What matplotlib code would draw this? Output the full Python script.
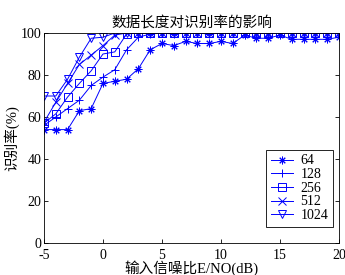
import matplotlib
matplotlib.use("Agg")
import matplotlib.pyplot as plt

plt.rcParams["font.family"] = ["Liberation Serif", "Noto Sans CJK SC"]
plt.rcParams["axes.unicode_minus"] = False

snr = list(range(-5, 21))
acc_64 = [54, 54, 54, 63, 64, 76, 77, 78, 83, 92, 95, 94, 96, 95, 95, 96, 95, 99,
          97.5, 97.5, 99, 97, 97, 97, 97, 98]
acc_128 = [56, 60, 64, 68, 75, 79, 82.5, 92, 98, 99.5, 100, 99.5, 100, 100, 99.5,
           100, 100, 100, 100, 100, 100, 100, 100, 100, 100, 100]
acc_256 = [57, 61.5, 69.5, 76, 82, 90, 91, 99.5, 100, 100, 100, 100, 100, 100, 100,
           100, 100, 100, 100, 100, 100, 100, 100, 100, 100, 100]
acc_512 = [57.5, 67, 76, 85, 89.5, 94, 99, 100, 100, 100, 100, 100, 100, 100, 100,
           100, 100, 100, 100, 100, 100, 100, 100, 100, 100, 100]
acc_1024 = [70, 70, 78, 88.5, 97.5, 98, 100, 100, 100, 100, 100, 100, 100, 100, 100,
            100, 100, 100, 100, 100, 100, 100, 100, 100, 100, 100]

labels = ["64", "128", "256", "512", "1024"]
series = [acc_64, acc_128, acc_256, acc_512, acc_1024]
markers = [(8, 2, 0), "+", "s", "x", "v"]

fig = plt.figure(figsize=(3.45, 2.75), dpi=100)
ax = fig.add_axes([0.1275, 0.1164, 0.855, 0.7636])

for y, lab, m in zip(series, labels, markers):
    ax.plot(snr, y, color="#0000ff", lw=0.7, marker=m, ms=5.5,
            mfc="none", mec="#0000ff", mew=0.7, label=lab)

ax.set_xlim(-5, 20)
ax.set_ylim(0, 100)
ax.set_xticks(range(-5, 21, 5))
ax.set_yticks(range(0, 101, 20))
ax.tick_params(direction="in", top=True, right=True, labelsize=10, length=3,
               width=0.6)
ax.tick_params(axis="x", pad=4)
ax.tick_params(axis="y", pad=2)
for s in ax.spines.values():
    s.set_linewidth(0.6)

ax.set_title("数据长度对识别率的影响", fontsize=10.5, pad=4)
ax.set_xlabel("输入信噪比E/NO(dB)", fontsize=10.5, labelpad=-1)
ax.set_ylabel("识别率(%)", fontsize=10.5, labelpad=1)

leg = ax.legend(loc="lower right", fontsize=10, fancybox=False, framealpha=1,
                edgecolor="black", borderpad=0.35, labelspacing=0.05,
                handlelength=1.6, handletextpad=0.5, borderaxespad=0,
                bbox_to_anchor=(0.98, 0.076))
leg.get_frame().set_linewidth(0.6)

fig.savefig("out.png", dpi=100)
